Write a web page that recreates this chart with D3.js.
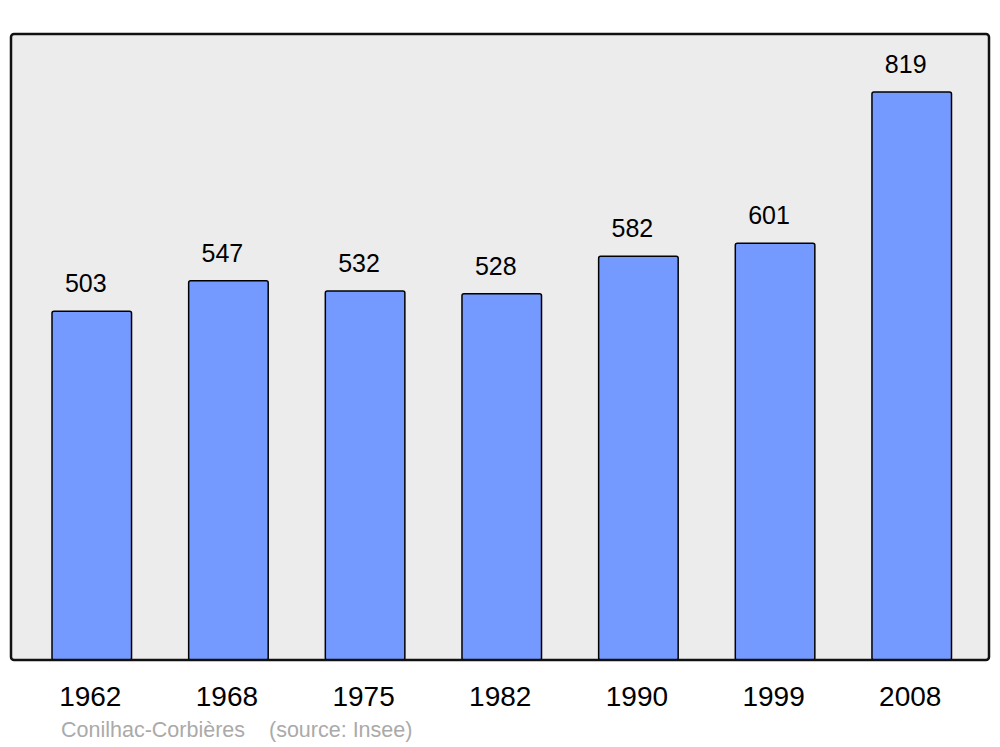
<!DOCTYPE html>
<html>
<head>
<meta charset="utf-8">
<script src="https://cdn.jsdelivr.net/npm/d3@7"></script>
<style>
  body { margin: 0; background: #fff; }
  svg { display: block; font-family: "Liberation Sans", Arial, sans-serif; }
</style>
</head>
<body>
<svg id="chart" width="1000" height="747"></svg>
<script>
var years = ["1962", "1968", "1975", "1982", "1990", "1999", "2008"];
var population = [503, 547, 532, 528, 582, 601, 819];
var townName = "Conilhac-Corbières";
var sourceText = "(source: Insee)";

var svg = d3.select("#chart");
var panelLeft = 11, panelRight = 989, panelTop = 34, panelBottom = 660;

var data = years.map(function(y, i){ return {year: y, value: population[i]}; });

var xScale = d3.scaleBand()
  .domain(years)
  .range([52, 951.5])
  .paddingInner(0.418)
  .paddingOuter(0);

var yScale = d3.scaleLinear()
  .domain([0, 819])
  .range([panelBottom, 92]);

// background panel
svg.append("rect")
  .attr("x", panelLeft)
  .attr("y", panelTop)
  .attr("width", panelRight - panelLeft)
  .attr("height", panelBottom - panelTop)
  .attr("rx", 3)
  .attr("fill", "#ececec")
  .attr("stroke", "none");

// bars
svg.selectAll(".bar")
  .data(data)
  .enter()
  .append("rect")
    .attr("class", "bar")
    .attr("x", function(d){ return xScale(d.year); })
    .attr("y", function(d){ return yScale(d.value); })
    .attr("width", xScale.bandwidth())
    .attr("height", function(d){ return yScale(0) - yScale(d.value); })
    .attr("rx", 2)
    .attr("fill", "#7499ff")
    .attr("stroke", "#000")
    .attr("stroke-width", 1.5);

// value labels (sit a bit left of the bar centre, as in the original)
svg.selectAll(".value")
  .data(data)
  .enter()
  .append("text")
    .attr("class", "value")
    .attr("x", function(d){ return xScale(d.year) + xScale.bandwidth()/2 - 6; })
    .attr("y", function(d){ return yScale(d.value) - 19; })
    .attr("text-anchor", "middle")
    .attr("font-size", 25)
    .attr("fill", "#000")
    .text(function(d){ return d.value; });

// panel border on top
svg.append("rect")
  .attr("x", panelLeft)
  .attr("y", panelTop)
  .attr("width", panelRight - panelLeft)
  .attr("height", panelBottom - panelTop)
  .attr("rx", 3)
  .attr("fill", "none")
  .attr("stroke", "#111")
  .attr("stroke-width", 2.5);

// x axis labels
var xAxis = d3.axisBottom(xScale).tickSize(0).tickPadding(0);
var gx = svg.append("g")
  .attr("transform", "translate(-1.5," + panelBottom + ")")
  .call(xAxis);
gx.select(".domain").remove();
gx.selectAll("text")
  .attr("dy", null)
  .attr("y", 46)
  .attr("font-size", 28)
  .attr("font-family", "Liberation Sans, Arial, sans-serif")
  .attr("fill", "#000");

// caption
var caption = svg.append("text")
  .attr("y", 737)
  .attr("font-size", 21.5)
  .attr("fill", "#aaaaaa");
caption.append("tspan").attr("x", 61).text(townName);
caption.append("tspan").attr("x", 269).text(sourceText);
</script>
</body>
</html>
